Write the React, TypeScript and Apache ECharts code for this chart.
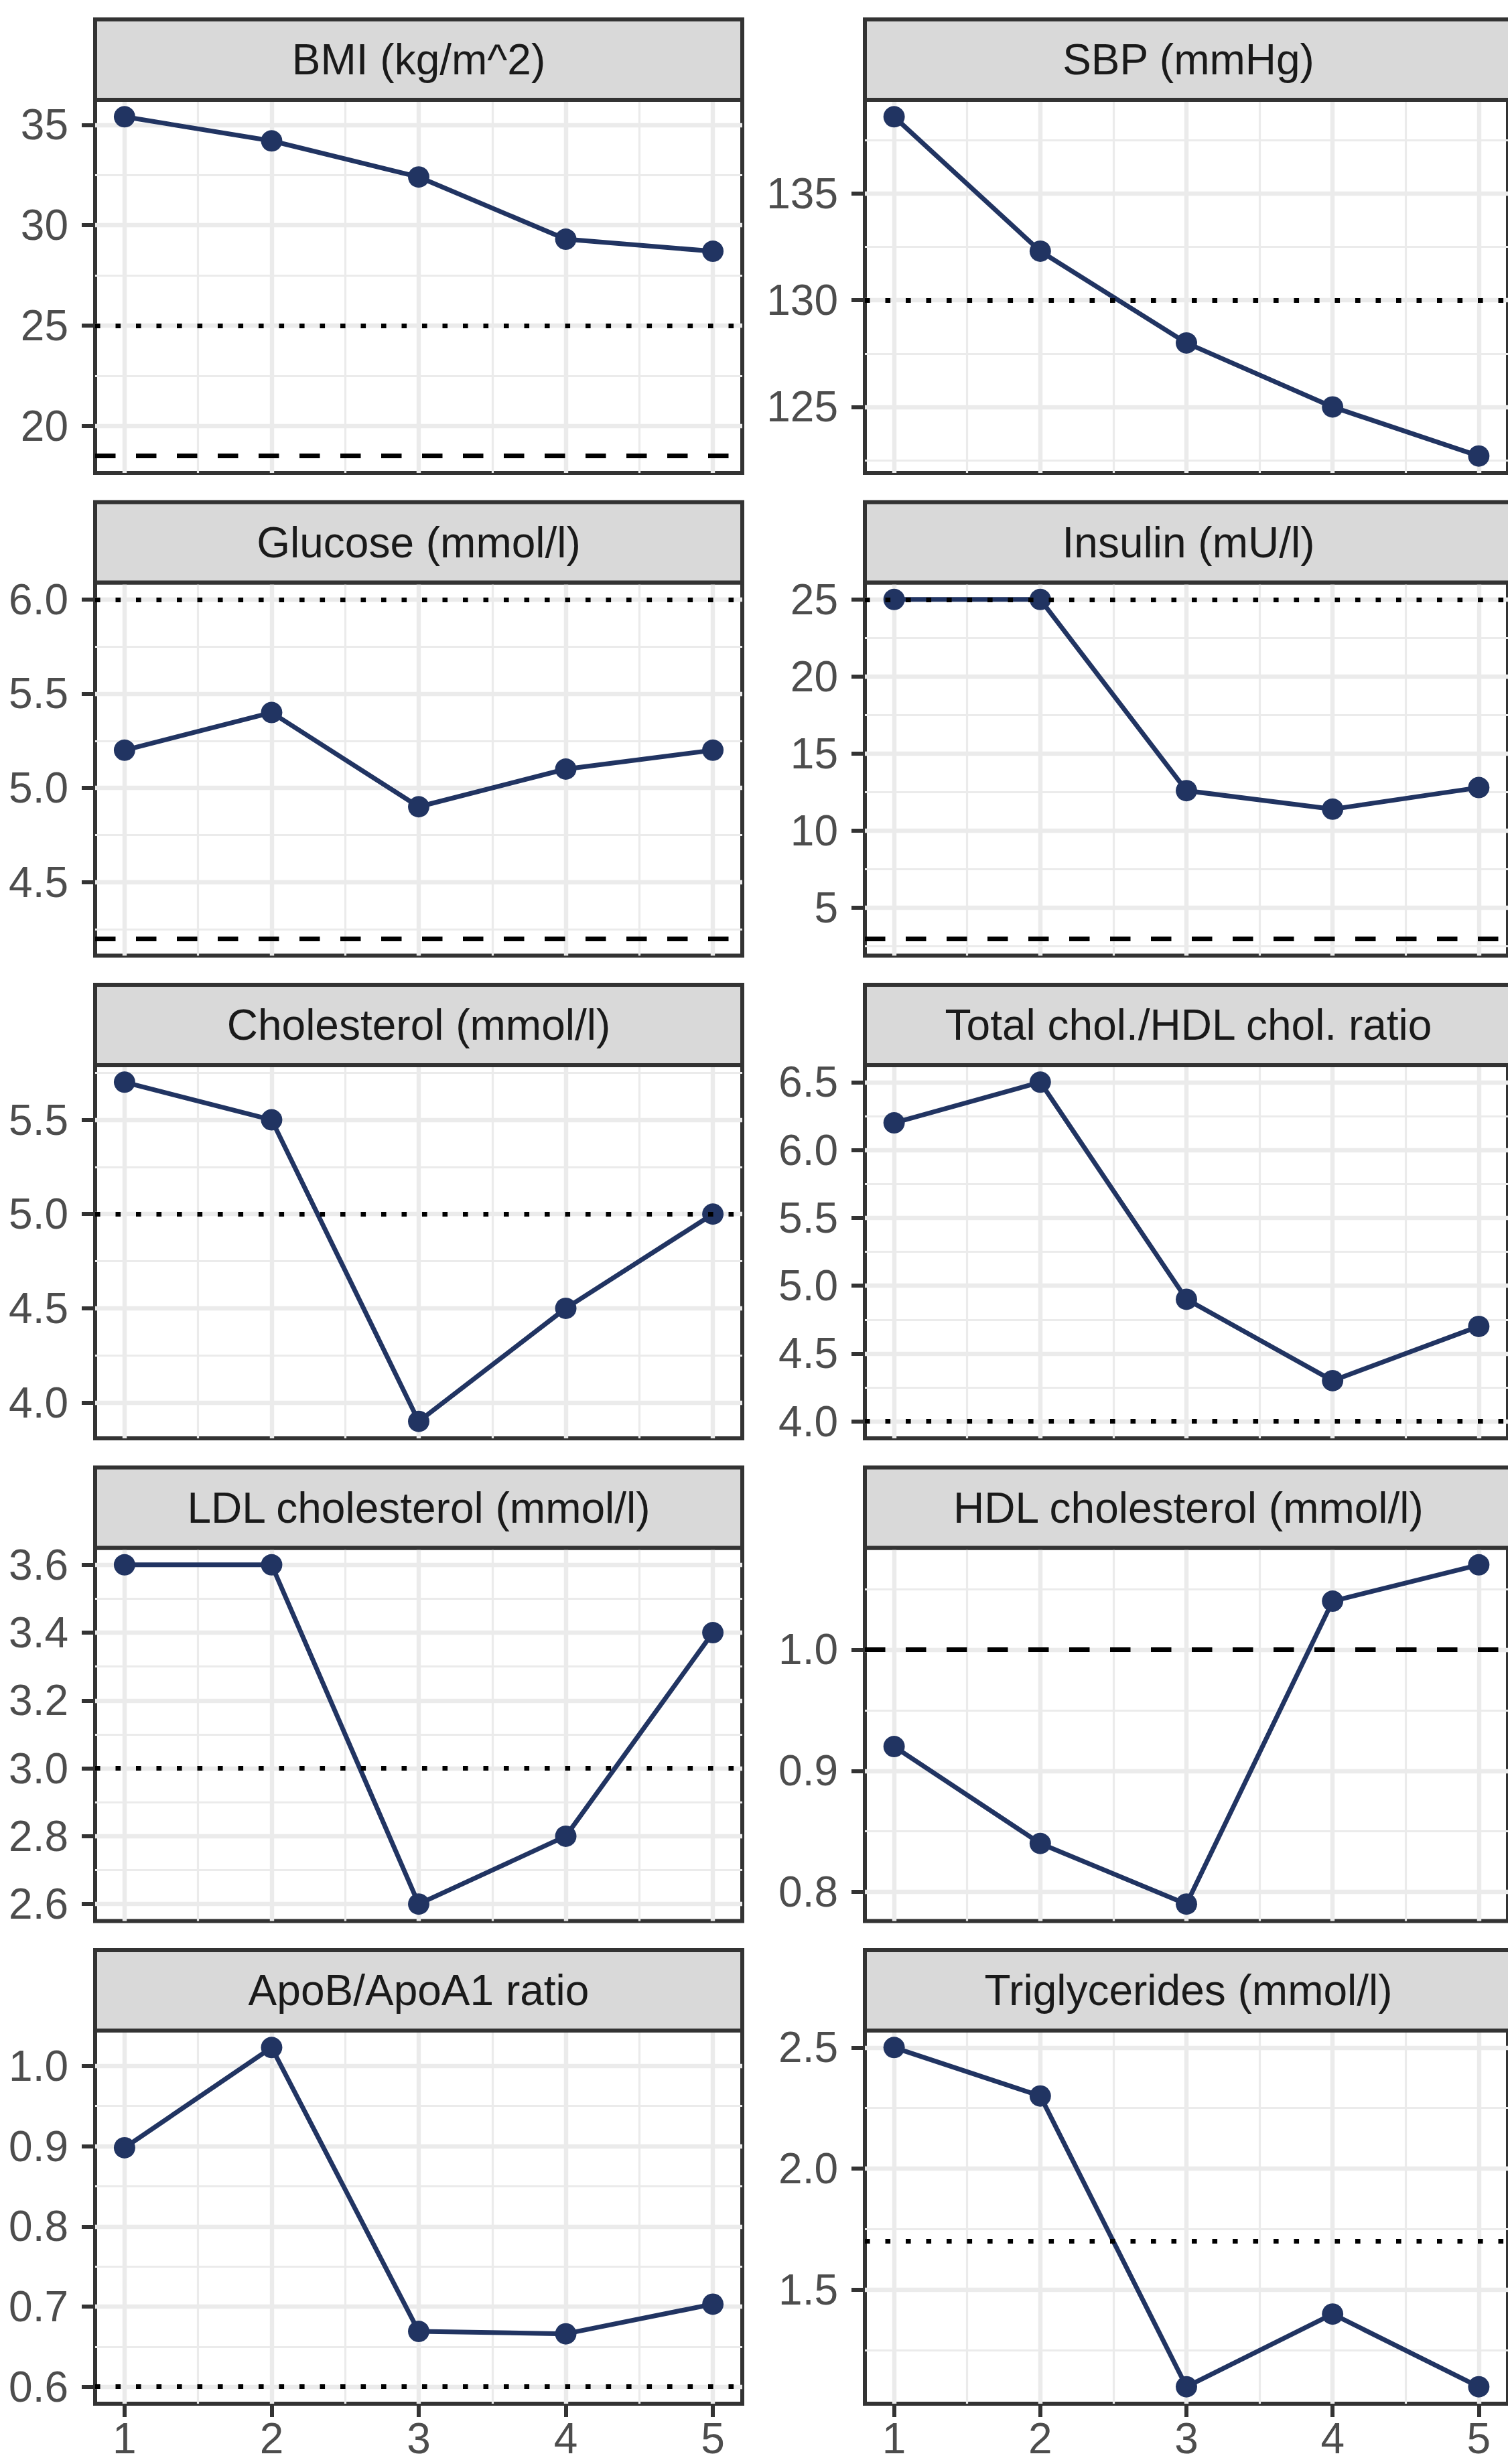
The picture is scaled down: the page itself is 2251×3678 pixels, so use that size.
import { useEffect, useRef } from "react";
import * as echarts from "echarts";

// Facet titles, in panel order (row by row, left then right)
const panelTitles = [
  "BMI (kg/m^2)",
  "SBP (mmHg)",
  "Glucose (mmol/l)",
  "Insulin (mU/l)",
  "Cholesterol (mmol/l)",
  "Total chol./HDL chol. ratio",
  "LDL cholesterol (mmol/l)",
  "HDL cholesterol (mmol/l)",
  "ApoB/ApoA1 ratio",
  "Triglycerides (mmol/l)",
];

// Group numbers on the x axis
const groups = [1, 2, 3, 4, 5];
const xTickLabels = ["1", "2", "3", "4", "5"];

// Mean value per group
const bmi = [35.4, 34.2, 32.4, 29.3, 28.7];
const sbp = [138.6, 132.3, 128.0, 125.0, 122.7];
const glucose = [5.2, 5.4, 4.9, 5.1, 5.2];
const insulin = [25, 25, 12.6, 11.4, 12.8];
const cholesterol = [5.7, 5.5, 3.9, 4.5, 5.0];
const cholHdlRatio = [6.2, 6.5, 4.9, 4.3, 4.7];
const ldl = [3.6, 3.6, 2.6, 2.8, 3.4];
const hdl = [0.92, 0.84, 0.79, 1.04, 1.07];
const apoRatio = [0.898, 1.023, 0.669, 0.666, 0.703];
const triglycerides = [2.5, 2.3, 1.1, 1.4, 1.1];

const panelValues = [bmi, sbp, glucose, insulin, cholesterol, cholHdlRatio, ldl, hdl, apoRatio, triglycerides];

// Clinical cut-offs: dotted = upper limit, dashed = lower limit
const dottedRefs = [25, 130, 6.0, 25, 5.0, 4.0, 3.0, null, 0.6, 1.7];
const dashedRefs = [18.5, null, 4.2, 3, null, null, null, 1.0, null, null];

// Y tick labels per panel
const yTickLabels = [
  ["20", "25", "30", "35"],
  ["125", "130", "135"],
  ["4.5", "5.0", "5.5", "6.0"],
  ["5", "10", "15", "20", "25"],
  ["4.0", "4.5", "5.0", "5.5"],
  ["4.0", "4.5", "5.0", "5.5", "6.0", "6.5"],
  ["2.6", "2.8", "3.0", "3.2", "3.4", "3.6"],
  ["0.8", "0.9", "1.0"],
  ["0.6", "0.7", "0.8", "0.9", "1.0"],
  ["1.5", "2.0", "2.5"],
];

// Layout (px)
const W = 2251;
const H = 3678;
const colLeft = [142, 1291];
const panelW = 966;
const rowPitch = 720.5;
const stripTop0 = 29;
const stripH = 120;
const plotH = 557;

const NAVY = "#213462";
const FONT = "Liberation Sans, Arial, Helvetica, sans-serif";
const FS = 64;

function expandRange(vals: number[]): [number, number] {
  const lo = Math.min(...vals);
  const hi = Math.max(...vals);
  const pad = (hi - lo) * 0.05;
  return [lo - pad, hi + pad];
}

function minorsOf(majors: number[], lo: number, hi: number): number[] {
  const step = majors[1] - majors[0];
  const out: number[] = [];
  for (let k = -1; k < majors.length; k++) {
    const m = (k < 0 ? majors[0] - step : majors[k]) + step / 2;
    if (m > lo && m < hi) out.push(+m.toFixed(6));
  }
  return out;
}

function labelFor(ticks: number[], labels: string[], v: number): string {
  for (let k = 0; k < ticks.length; k++) {
    if (Math.abs(ticks[k] - v) < 1e-6) return labels[k];
  }
  return "";
}

function buildOption() {
  const grids: any[] = [];
  const xAxes: any[] = [];
  const yAxes: any[] = [];
  const series: any[] = [];
  const graphics: any[] = [];

  const xMin = 0.8;
  const xMax = 5.2;
  const xMinors = minorsOf(groups, xMin, xMax);

  panelValues.forEach((vals, i) => {
    const row = Math.floor(i / 2);
    const col = i % 2;
    const left = colLeft[col];
    const stripTop = stripTop0 + row * rowPitch;
    const plotTop = stripTop + stripH;
    const isBottom = row === 4;

    const refs: number[] = [];
    if (dottedRefs[i] != null) refs.push(dottedRefs[i] as number);
    if (dashedRefs[i] != null) refs.push(dashedRefs[i] as number);
    const [yMin, yMax] = expandRange([...vals, ...refs]);
    const yTicks = yTickLabels[i].map(Number);
    const yMinors = minorsOf(yTicks, yMin, yMax);

    grids.push({
      left,
      top: plotTop,
      width: panelW,
      height: plotH,
      show: true,
      backgroundColor: "#FFFFFF",
      borderColor: "#333333",
      borderWidth: 6,
      containLabel: false,
    });

    // major x axis
    xAxes.push({
      type: "value",
      gridIndex: i,
      min: xMin,
      max: xMax,
      axisLine: { show: false },
      axisTick: {
        show: isBottom,
        customValues: groups,
        length: 20,
        lineStyle: { color: "#333333", width: 6 },
      },
      axisLabel: {
        show: isBottom,
        customValues: groups,
        formatter: (v: number) => labelFor(groups, xTickLabels, v),
        color: "#4D4D4D",
        fontSize: FS,
        fontFamily: FONT,
        margin: 20,
      },
      splitLine: { show: true, lineStyle: { color: "#EBEBEB", width: 6.4 } },
    });
    // minor x axis (grid lines only)
    xAxes.push({
      type: "value",
      gridIndex: i,
      min: xMin,
      max: xMax,
      position: "bottom",
      axisLine: { show: false },
      axisTick: { show: false, customValues: xMinors },
      axisLabel: { show: false, customValues: xMinors },
      splitLine: { show: true, lineStyle: { color: "#EBEBEB", width: 3.2 } },
    });

    // major y axis
    yAxes.push({
      type: "value",
      gridIndex: i,
      min: yMin,
      max: yMax,
      axisLine: { show: false },
      axisTick: {
        show: true,
        customValues: yTicks,
        length: 20,
        lineStyle: { color: "#333333", width: 6 },
      },
      axisLabel: {
        show: true,
        customValues: yTicks,
        formatter: (v: number) => labelFor(yTicks, yTickLabels[i], v),
        color: "#4D4D4D",
        fontSize: FS,
        fontFamily: FONT,
        margin: 40,
      },
      splitLine: { show: true, lineStyle: { color: "#EBEBEB", width: 6.4 } },
    });
    // minor y axis (grid lines only)
    yAxes.push({
      type: "value",
      gridIndex: i,
      min: yMin,
      max: yMax,
      position: "left",
      axisLine: { show: false },
      axisTick: { show: false, customValues: yMinors },
      axisLabel: { show: false, customValues: yMinors },
      splitLine: { show: true, lineStyle: { color: "#EBEBEB", width: 3.2 } },
    });

    const markData: any[] = [];
    if (dottedRefs[i] != null) {
      markData.push({
        yAxis: dottedRefs[i],
        lineStyle: { type: [7.6, 22.9], width: 7, color: "#000000", cap: "butt" },
      });
    }
    if (dashedRefs[i] != null) {
      markData.push({
        yAxis: dashedRefs[i],
        lineStyle: { type: [30.5, 30.5], width: 7, color: "#000000", cap: "butt" },
      });
    }

    series.push({
      type: "line",
      name: panelTitles[i],
      xAxisIndex: 2 * i,
      yAxisIndex: 2 * i,
      data: groups.map((g, k) => [g, vals[k]]),
      symbol: "circle",
      symbolSize: 32,
      showSymbol: true,
      lineStyle: { color: NAVY, width: 7 },
      itemStyle: { color: NAVY },
      emphasis: { disabled: true },
      z: 3,
      markLine: {
        silent: true,
        symbol: ["none", "none"],
        label: { show: false },
        emphasis: { disabled: true },
        data: markData,
      },
    });

    // facet strip
    graphics.push({
      type: "group",
      z: 10,
      children: [
        {
          type: "rect",
          shape: { x: left, y: stripTop, width: panelW, height: stripH },
          style: { fill: "#D9D9D9", stroke: "#333333", lineWidth: 6 },
          z: 10,
        },
        {
          type: "text",
          x: left + panelW / 2,
          y: stripTop + stripH / 2,
          z: 11,
          style: {
            text: panelTitles[i],
            fill: "#1A1A1A",
            font: `${FS}px ${FONT}`,
            textAlign: "center",
            textVerticalAlign: "middle",
          },
        },
      ],
    });
  });

  return {
    animation: false,
    backgroundColor: "#FFFFFF",
    grid: grids,
    xAxis: xAxes,
    yAxis: yAxes,
    series,
    graphic: graphics,
  };
}

export default function App() {
  const ref = useRef<HTMLDivElement>(null);

  useEffect(() => {
    if (!ref.current) return;
    const chart = echarts.init(ref.current, undefined, { renderer: "svg" });
    chart.setOption(buildOption() as any);
    return () => chart.dispose();
  }, []);

  return (
    <div
      ref={ref}
      style={{ position: "absolute", left: 0, top: 0, width: W, height: H, background: "#FFFFFF" }}
    />
  );
}
